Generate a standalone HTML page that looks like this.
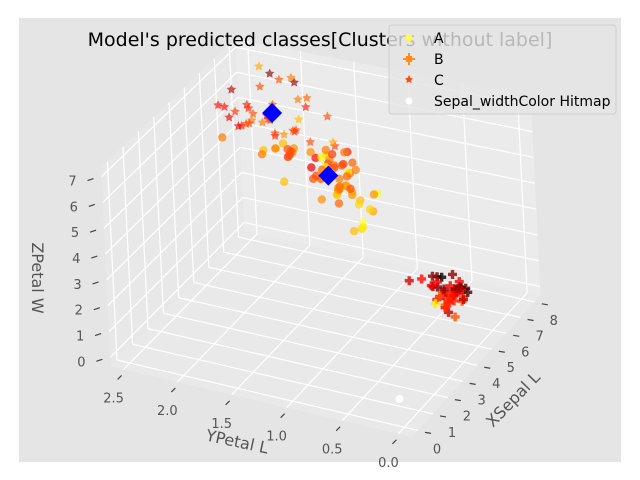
<!DOCTYPE html>
<html><head><meta charset="utf-8"><style>
html,body{margin:0;padding:0;background:#fff;}
svg{display:block;font-family:"DejaVu Sans","Liberation Sans",sans-serif;}
</style></head><body>
<svg id="chart" width="640" height="480" viewBox="0 0 640 480">
<rect x="19" y="18" width="602" height="444" fill="#e5e5e5"/>
<g id="panes"></g>
<g id="grid"></g>
<g id="ticks"></g>
<g id="marks"></g>
<text x="320" y="46" text-anchor="middle" font-size="19" fill="#000">Model's predicted classes[Clusters without label]</text>
<text transform="translate(517,403) rotate(-46)" text-anchor="middle" font-size="16" fill="#555">XSepal L</text>
<text transform="translate(236,447) rotate(12)" text-anchor="middle" font-size="16" fill="#555">YPetal L</text>
<text transform="translate(32,278) rotate(90)" text-anchor="middle" font-size="16" fill="#555">ZPetal W</text>
<g>
<rect x="389" y="25" width="227" height="89" rx="3" fill="rgba(229,229,229,0.8)" stroke="#cfcfcf"/>
<g><circle cx="409" cy="38" r="3.5" fill="#ffff44"/><text x="434" y="43" font-size="14" fill="#000">A</text></g>
<g><path d="M406,56h6v6h-6z M408,53h2v12h-2z M403,58h12v2h-12z" fill="#ff8c1a"/><text x="434" y="64" font-size="14" fill="#000">B</text></g>
<g><path d="M409,75 L410.5,78 L413,78.5 L411,80.5 L411.7,83 L409,81.7 L406.3,83 L407,80.5 L405,78.5 L407.5,78 Z" fill="#ff4a10"/><text x="434" y="85" font-size="14" fill="#000">C</text></g>
<g><circle cx="409" cy="101" r="3.5" fill="#fff"/><text x="434" y="106" font-size="14" fill="#000">Sepal_widthColor Hitmap</text></g>
</g>
</svg>
<script>
const sepalL=[5.1,4.9,4.7,4.6,5.0,5.4,4.6,5.0,4.4,4.9,5.4,4.8,4.8,4.3,5.8,5.7,5.4,5.1,5.7,5.1,5.4,5.1,4.6,5.1,4.8,5.0,5.0,5.2,5.2,4.7,4.8,5.4,5.2,5.5,4.9,5.0,5.5,4.9,4.4,5.1,5.0,4.5,4.4,5.0,5.1,4.8,5.1,4.6,5.3,5.0,
7.0,6.4,6.9,5.5,6.5,5.7,6.3,4.9,6.6,5.2,5.0,5.9,6.0,6.1,5.6,6.7,5.6,5.8,6.2,5.6,5.9,6.1,6.3,6.1,6.4,6.6,6.8,6.7,6.0,5.7,5.5,5.5,5.8,6.0,5.4,6.0,6.7,6.3,5.6,5.5,5.5,6.1,5.8,5.0,5.6,5.7,5.7,6.2,5.1,5.7,
6.3,5.8,7.1,6.3,6.5,7.6,4.9,7.3,6.7,7.2,6.5,6.4,6.8,5.7,5.8,6.4,6.5,7.7,7.7,6.0,6.9,5.6,7.7,6.3,6.7,7.2,6.2,6.1,6.4,7.2,7.4,7.9,6.4,6.3,6.1,7.7,6.3,6.4,6.0,6.9,6.7,6.9,5.8,6.8,6.7,6.7,6.3,6.5,6.2,5.9];
const sepalW=[3.5,3.0,3.2,3.1,3.6,3.9,3.4,3.4,2.9,3.1,3.7,3.4,3.0,3.0,4.0,4.4,3.9,3.5,3.8,3.8,3.4,3.7,3.6,3.3,3.4,3.0,3.4,3.5,3.4,3.2,3.1,3.4,4.1,4.2,3.1,3.2,3.5,3.6,3.0,3.4,3.5,2.3,3.2,3.5,3.8,3.0,3.8,3.2,3.7,3.3,
3.2,3.2,3.1,2.3,2.8,2.8,3.3,2.4,2.9,2.7,2.0,3.0,2.2,2.9,2.9,3.1,3.0,2.7,2.2,2.5,3.2,2.8,2.5,2.8,2.9,3.0,2.8,3.0,2.9,2.6,2.4,2.4,2.7,2.7,3.0,3.4,3.1,2.3,3.0,2.5,2.6,3.0,2.6,2.3,2.7,3.0,2.9,2.9,2.5,2.8,
3.3,2.7,3.0,2.9,3.0,3.0,2.5,2.9,2.5,3.6,3.2,2.7,3.0,2.5,2.8,3.2,3.0,3.8,2.6,2.2,3.2,2.8,2.8,2.7,3.3,3.2,2.8,3.0,2.8,3.0,2.8,3.8,2.8,2.8,2.6,3.0,3.4,3.1,3.0,3.1,3.1,3.1,2.7,3.2,3.3,3.0,2.5,3.0,3.4,3.0];
const petalL=[1.4,1.4,1.3,1.5,1.4,1.7,1.4,1.5,1.4,1.5,1.5,1.6,1.4,1.1,1.2,1.5,1.3,1.4,1.7,1.5,1.7,1.5,1.0,1.7,1.9,1.6,1.6,1.5,1.4,1.6,1.6,1.5,1.5,1.4,1.5,1.2,1.3,1.4,1.3,1.5,1.3,1.3,1.3,1.6,1.9,1.4,1.6,1.4,1.5,1.4,
4.7,4.5,4.9,4.0,4.6,4.5,4.7,3.3,4.6,3.9,3.5,4.2,4.0,4.7,3.6,4.4,4.5,4.1,4.5,3.9,4.8,4.0,4.9,4.7,4.3,4.4,4.8,5.0,4.5,3.5,3.8,3.7,3.9,5.1,4.5,4.5,4.7,4.4,4.1,4.0,4.4,4.6,4.0,3.3,4.2,4.2,4.2,4.3,3.0,4.1,
6.0,5.1,5.9,5.6,5.8,6.6,4.5,6.3,5.8,6.1,5.1,5.3,5.5,5.0,5.1,5.3,5.5,6.7,6.9,5.0,5.7,4.9,6.7,4.9,5.7,6.0,4.8,4.9,5.6,5.8,6.1,6.4,5.6,5.1,5.6,6.1,5.6,5.5,4.8,5.4,5.6,5.1,5.1,5.9,5.7,5.2,5.0,5.2,5.4,5.1];
const petalW=[0.2,0.2,0.2,0.2,0.2,0.4,0.3,0.2,0.2,0.1,0.2,0.2,0.1,0.1,0.2,0.4,0.4,0.3,0.3,0.3,0.2,0.4,0.2,0.5,0.2,0.2,0.4,0.2,0.2,0.2,0.2,0.4,0.1,0.2,0.2,0.2,0.2,0.1,0.2,0.2,0.3,0.3,0.2,0.6,0.4,0.3,0.2,0.2,0.2,0.2,
1.4,1.5,1.5,1.3,1.5,1.3,1.6,1.0,1.3,1.4,1.0,1.5,1.0,1.4,1.3,1.4,1.5,1.0,1.5,1.1,1.8,1.3,1.5,1.2,1.3,1.4,1.4,1.7,1.5,1.0,1.1,1.0,1.2,1.6,1.5,1.6,1.5,1.3,1.3,1.3,1.2,1.4,1.2,1.0,1.3,1.2,1.3,1.3,1.1,1.3,
2.5,1.9,2.1,1.8,2.2,2.1,1.7,1.8,1.8,2.5,2.0,1.9,2.1,2.0,2.4,2.3,1.8,2.2,2.3,1.5,2.3,2.0,2.0,1.8,2.1,1.8,1.8,1.8,2.1,1.6,1.9,2.0,2.2,1.5,1.4,2.3,2.4,1.8,1.8,2.1,2.4,2.3,1.9,2.3,2.5,2.3,1.9,2.0,2.3,1.8];
const clusterNames=["A","B","C"];
const centerSepalL=[5.90,5.01,6.85];
const centerPetalW=[1.43,0.25,2.07];
const centerPetalL=[4.39,1.46,5.74];
const xTicks=[0,1,2,3,4,5,6,7,8];
const yTicks=[0.0,0.5,1.0,1.5,2.0,2.5];
const zTicks=[0,1,2,3,4,5,6,7];
const hitmapPoint=[0.9,0.16,0];

const NS="http://www.w3.org/2000/svg";
const XL=[-0.4,8.4],YL=[-0.12,2.62],ZL=[-0.35,7.35];
const O=[412,437],EX=[135,-140],EY=[-308,-67],EZ=[-10,-205];
function proj(x,y,z){
  const a=(x-XL[0])/(XL[1]-XL[0]),b=(y-YL[0])/(YL[1]-YL[0]),c=(z-ZL[0])/(ZL[1]-ZL[0]);
  let px=O[0]+a*EX[0]+b*EY[0]+c*EZ[0], py=O[1]+a*EX[1]+b*EY[1]+c*EZ[1];
  const d=(a+b)/2, s=1-0.06*d, cx=330, cy=250;
  return [cx+(px-cx)*s, cy+(py-cy)*s];
}
function mk(tag,parent,attrs){const e=document.createElementNS(NS,tag);for(const k in attrs)e.setAttribute(k,attrs[k]);parent.appendChild(e);return e;}
function line(parent,p,q,stroke,w){return mk('line',parent,{x1:p[0],y1:p[1],x2:q[0],y2:q[1],stroke:stroke,'stroke-width':w});}
function poly(parent,pts,fill){return mk('polygon',parent,{points:pts.map(p=>p.join(',')).join(' '),fill:fill});}

const panes=document.getElementById('panes');
let e;
e=poly(panes,[proj(XL[0],YL[0],ZL[0]),proj(XL[1],YL[0],ZL[0]),proj(XL[1],YL[1],ZL[0]),proj(XL[0],YL[1],ZL[0])],'#e9e9e9');


e=poly(panes,[proj(XL[0],YL[1],ZL[0]),proj(XL[1],YL[1],ZL[0]),proj(XL[1],YL[1],ZL[1]),proj(XL[0],YL[1],ZL[1])],'#e8e8e8');


e=poly(panes,[proj(XL[1],YL[0],ZL[0]),proj(XL[1],YL[1],ZL[0]),proj(XL[1],YL[1],ZL[1]),proj(XL[1],YL[0],ZL[1])],'#ebebeb');



const grid=document.getElementById('grid');
xTicks.forEach(x=>{
  e=line(grid,proj(x,YL[0],ZL[0]),proj(x,YL[1],ZL[0]),'#fff',1.2);
  
  
  e=line(grid,proj(x,YL[1],ZL[0]),proj(x,YL[1],ZL[1]),'#fff',1.2);
  
  
});
yTicks.forEach(y=>{
  e=line(grid,proj(XL[0],y,ZL[0]),proj(XL[1],y,ZL[0]),'#fff',1.2);
  
  
  e=line(grid,proj(XL[1],y,ZL[0]),proj(XL[1],y,ZL[1]),'#fff',1.2);
  
  
});
zTicks.forEach(z=>{
  e=line(grid,proj(XL[0],YL[1],z),proj(XL[1],YL[1],z),'#fff',1.2);
  
  
  e=line(grid,proj(XL[1],YL[0],z),proj(XL[1],YL[1],z),'#fff',1.2);
  
  
});

const ticks=document.getElementById('ticks');
function label(p,txt,name){
  const t=mk('text',ticks,{x:p[0],y:p[1],'text-anchor':'middle','font-size':'13',fill:'#555'});
  t.textContent=txt;
  
  
}
xTicks.forEach(x=>{
  const p=proj(x,YL[0],ZL[0]);
  e=line(ticks,[p[0]+7,p[1]+2],[p[0]+13,p[1]+3],'#444',1.2);
  
  
  label([p[0]+19,p[1]+23],String(x),'x-tick-label');
});
yTicks.forEach(y=>{
  const p=proj(XL[0],y,ZL[0]);
  e=line(ticks,[p[0]-2,p[1]+6],[p[0]-6,p[1]+10],'#444',1.2);
  
  
  label([p[0]-10,p[1]+33],y.toFixed(1),'y-tick-label');
});
zTicks.forEach(z=>{
  const p=proj(XL[0],YL[1],z);
  e=line(ticks,[p[0]-8,p[1]+2],[p[0]-14,p[1]+4],'#444',1.2);
  
  
  label([p[0]-29,p[1]+9],String(z),'z-tick-label');
});

const swMin=Math.min(...sepalW),swMax=Math.max(...sepalW);
function hotR(v){
  const t=0.82*(1-(v-swMin)/(swMax-swMin));
  const cl=u=>Math.max(0,Math.min(1,u));
  const r=cl(t/0.365),g=cl((t-0.365)/0.381),b=cl((t-0.746)/0.254);
  return 'rgb('+Math.round(r*255)+','+Math.round(g*255)+','+Math.round(b*255)+')';
}
function nearest(i){
  let best=0,bd=1e9;
  for(let k=0;k<3;k++){
    const d=(sepalL[i]-centerSepalL[k])**2+(petalW[i]-centerPetalW[k])**2+(petalL[i]-centerPetalL[k])**2;
    if(d<bd){bd=d;best=k;}
  }
  return best;
}
const marks=document.getElementById('marks');
function star(cx,cy,r){
  let pts=[];for(let k=0;k<10;k++){const a=-Math.PI/2+k*Math.PI/5,rr=k%2?r*0.5:r;pts.push([cx+rr*Math.cos(a),cy+rr*Math.sin(a)]);}
  return pts.map(p=>p[0].toFixed(1)+','+p[1].toFixed(1)).join(' ');
}
function drawPoint(i){
  const k=nearest(i);
  const p=proj(sepalL[i],petalW[i],petalL[i]);
  const col=hotR(sepalW[i]);
  let el;
  if(k===0){
    el=mk('circle',marks,{cx:p[0],cy:p[1],r:4.2,fill:col,'fill-opacity':0.7});
    
  }else if(k===1){
    el=mk('path',marks,{d:`M${p[0]-1.7},${p[1]-4.5}h3.4v2.8h2.8v3.4h-2.8v2.8h-3.4v-2.8h-2.8v-3.4h2.8z`,fill:col,'fill-opacity':0.8});
    
  }else{
    el=mk('polygon',marks,{points:star(p[0],p[1],5),fill:col,'fill-opacity':0.65});
    
  }
  
}
function drawCenter(k){
  const p=proj(centerSepalL[k],centerPetalW[k],centerPetalL[k]);
  const r=k===1?3:10;
  const el=mk('polygon',marks,{points:`${p[0]},${p[1]-r} ${p[0]+r},${p[1]} ${p[0]},${p[1]+r} ${p[0]-r},${p[1]}`,fill:'#0000ff'});
  
  
}
for(let i=0;i<sepalL.length;i++){if(nearest(i)!==1)drawPoint(i);}
drawCenter(0);drawCenter(2);drawCenter(1);
for(let i=0;i<sepalL.length;i++){if(nearest(i)===1)drawPoint(i);}
const hp=proj(hitmapPoint[0],hitmapPoint[1],hitmapPoint[2]);
const hpe=mk('circle',marks,{cx:hp[0],cy:hp[1],r:4,fill:'#fff'});


</script>
</body></html>
